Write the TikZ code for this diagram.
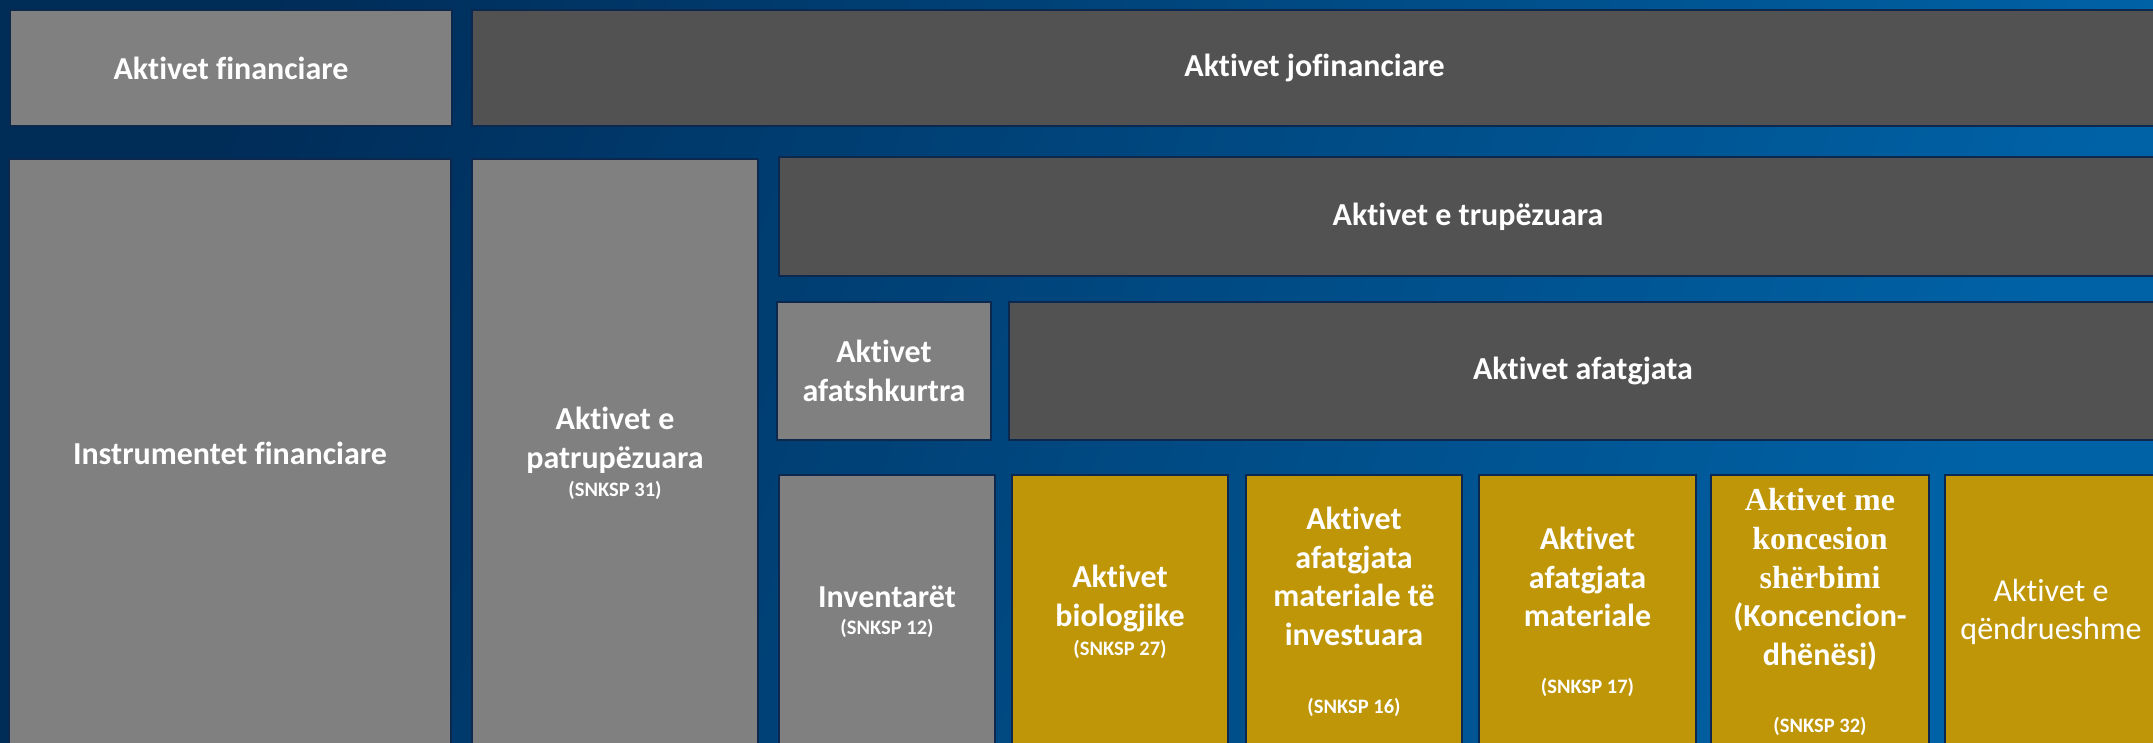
\documentclass[tikz,border=0pt]{standalone}
\usepackage{fontspec}
\setmainfont{Carlito}[Ligatures=NoCommon]
\newfontfamily\serifbold{Liberation Serif}

\definecolor{bgdark}{RGB}{0,44,88}
\definecolor{bglight}{RGB}{0,98,166}
\definecolor{boxedge}{RGB}{12,40,78}
\definecolor{boxgrey}{RGB}{128,128,128}
\definecolor{boxdark}{RGB}{82,82,82}
\definecolor{boxgold}{RGB}{191,150,8}

\newcommand{\snksp}[1]{{\fontsize{20.5}{24}\selectfont (SNKSP #1)}}

\tikzset{
    assetbox/.style={draw=boxedge, line width=1.5pt, text=white, align=center, inner sep=0pt,
        font=\bfseries\fontsize{32}{38.6}\selectfont},
    greybox/.style={assetbox, fill=boxgrey},
    darkbox/.style={assetbox, fill=boxdark},
    goldbox/.style={assetbox, fill=boxgold}
}

\begin{document}
\begin{tikzpicture}[x=1pt, y=-1pt]

    % Frame and background
    \useasboundingbox (0,0) rectangle (2153,742);
    \clip (0,0) rectangle (2153,742);
    \shade[left color=bgdark, right color=bglight, shading angle=70] (0,0) rectangle (2153,742);

    %% Top row
    \node[greybox, minimum width=442, minimum height=116] (financiare) at (231,68) {Aktivet financiare};
    \node[darkbox, minimum width=1685, minimum height=116] (jofinanciare) at (1314.5,68) {Aktivet jofinanciare};

    %% Left columns
    \node[greybox, minimum width=442, minimum height=589] (instrumentet) at (230,453.5) {Instrumentet financiare};
    \node[greybox, minimum width=286, minimum height=589] (patrupezuara) at (615,453.5) {Aktivet e\\patrupëzuara\\[-10.6pt]\snksp{31}};

    % Tangible assets
    \node[darkbox, minimum width=1378, minimum height=119] (trupezuara) at (1468,216.5) {Aktivet e trupëzuara};

    % Short and long term
    \node[greybox, minimum width=214, minimum height=138] (afatshkurtra) at (884,371) {Aktivet\\afatshkurtra};
    \node[darkbox, minimum width=1148, minimum height=138] (afatgjata) at (1583,371) {Aktivet afatgjata};

    %% Bottom row
    \node[greybox, minimum width=216, minimum height=274] (inventaret) at (887,612) {Inventarët\\[-11.6pt]\snksp{12}};
    \node[goldbox, minimum width=216, minimum height=274] (biologjike) at (1120,612) {Aktivet\\biologjike\\[-9.6pt]\snksp{27}};
    \node[goldbox, minimum width=216, minimum height=274] (investuara) at (1354,612) {Aktivet\\afatgjata\\materiale të\\investuara\\[29.4pt]\snksp{16}};
    \node[goldbox, minimum width=217, minimum height=274] (materiale) at (1587.5,612) {Aktivet\\afatgjata\\materiale\\[28.4pt]\snksp{17}};
    \node[goldbox, minimum width=218, minimum height=274] (koncesion) at (1820,612) {{\serifbold Aktivet me}\\{\serifbold koncesion}\\{\serifbold shërbimi}\\(Koncencion-\\dhënësi)\\[28.4pt]\snksp{32}};
    \node[goldbox, minimum width=212, minimum height=274, font=\mdseries\fontsize{32}{37.5}\selectfont] (qendrueshme) at (2051,612) {Aktivet e\\qëndrueshme};

\end{tikzpicture}
\end{document}
